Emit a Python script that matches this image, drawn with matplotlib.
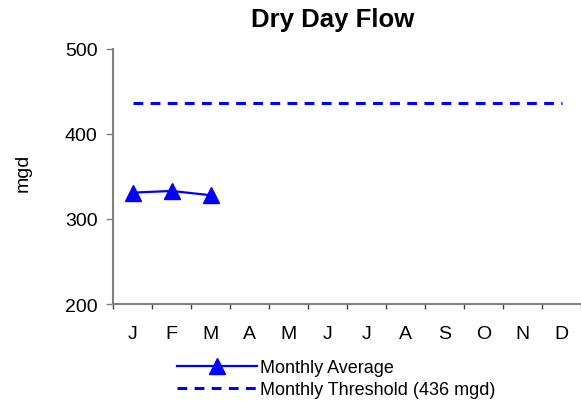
import matplotlib.pyplot as plt
from matplotlib.ticker import FixedLocator

plt.rcParams['font.family'] = ['Liberation Sans', 'DejaVu Sans']

months = ["J", "F", "M", "A", "M", "J", "J", "A", "S", "O", "N", "D"]
avg_flow = [331, 333, 328]
threshold = 436

x_all = list(range(len(months)))
x_avg = x_all[:len(avg_flow)]

fig = plt.figure(figsize=(5.81, 4.02), dpi=100)
ax = fig.add_axes([113 / 581, 1 - 305 / 402, 1 - 113 / 581, (305 - 50) / 402])

ax.plot(x_avg, avg_flow, color="#0000FF", marker="^", markersize=11,
        linewidth=1.6, label="Monthly Average")
ax.plot(x_all, [threshold] * len(x_all), color="#0000FF", linewidth=2.2,
        dashes=(3.2, 2.4), label="Monthly Threshold (436 mgd)")

ax.set_xlim(-0.5, len(months) - 0.5)
ax.set_ylim(200, 500)
ax.set_yticks([200, 300, 400, 500])
ax.set_xticks(x_all)
ax.set_xticklabels(months)
ax.xaxis.set_minor_locator(FixedLocator([i + 0.5 for i in range(-1, len(months))]))

for side in ["top", "right"]:
    ax.spines[side].set_visible(False)
for side in ["left", "bottom"]:
    ax.spines[side].set_color("#808080")
    ax.spines[side].set_linewidth(1.5)

ax.tick_params(axis="y", length=5, width=1, color="#808080", pad=6, labelsize=14)
ax.tick_params(axis="x", which="major", length=0, pad=15, labelsize=14)
ax.tick_params(axis="x", which="minor", length=3.5, width=1, color="#404040")

fig.text(333 / 581, 1 - 20 / 402, "Dry Day Flow", ha="center", va="center",
         fontsize=18.5, fontweight="bold")
fig.text(23 / 581, 1 - 173 / 402, "mgd", rotation=90, ha="center", va="center",
         fontsize=14)

fig.legend(loc="upper left", bbox_to_anchor=(177 / 581, 1 - 360 / 402),
           frameon=False, fontsize=13, handlelength=4.45, handletextpad=0.15,
           labelspacing=0.3, borderpad=0, borderaxespad=0)

fig.savefig("out.png", dpi=100)
